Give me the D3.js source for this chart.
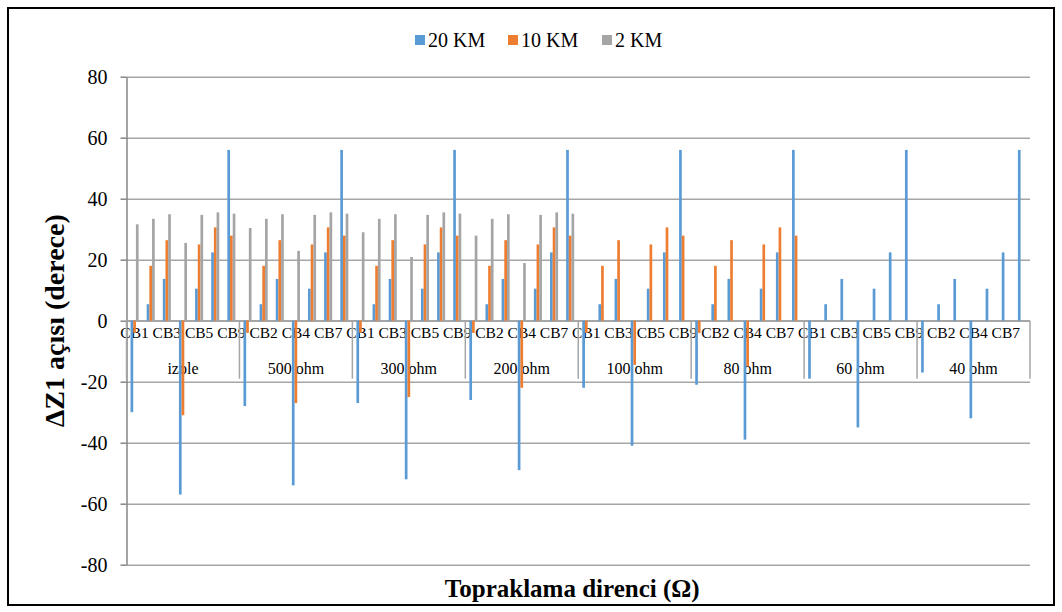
<!DOCTYPE html>
<html lang="tr">
	<head>
		<meta charset="UTF-8" />
		<title>ΔZ1 açısı</title>
		<script src="https://d3js.org/d3.v7.min.js"></script>
		<style>
			body {
				margin: 0;
				background: #fff;
			}
			text {
				font-family: "Liberation Serif", "Times New Roman", serif;
				fill: #000;
			}
		</style>
	</head>
	<body>
		<div id="chart"></div>

		<script>
			// Gruplar (topraklama direnci) ve kesiciler
			const groups = ["izole", "500 ohm", "300 ohm", "200 ohm", "100 ohm", "80 ohm", "60 ohm", "40 ohm"];
			const breakers = ["CB1", "CB2", "CB3", "CB4", "CB5", "CB7", "CB9"];
			const seriesNames = ["20 KM", "10 KM", "2 KM"];
			const yTicks = [-80, -60, -40, -20, 0, 20, 40, 60, 80];

			// her satır bir grup, her sütun bir kesici
			const km20 = [
				[-30, 5.4, 13.7, -57, 10.5, 22.4, 56],
				[-28, 5.4, 13.7, -54, 10.5, 22.4, 56],
				[-27, 5.4, 13.7, -52, 10.5, 22.4, 56],
				[-26, 5.4, 13.7, -49, 10.5, 22.4, 56],
				[-22, 5.4, 13.7, -41, 10.5, 22.4, 56],
				[-21, 5.4, 13.7, -39, 10.5, 22.4, 56],
				[-19, 5.4, 13.7, -35, 10.5, 22.4, 56],
				[-17, 5.4, 13.7, -32, 10.5, 22.4, 56]
			];
			const km10 = [
				[-4, 18, 26.4, -31, 25, 30.6, 27.9],
				[-4, 18, 26.4, -27, 25, 30.6, 27.9],
				[-4, 18, 26.4, -25, 25, 30.6, 27.9],
				[-4, 18, 26.4, -22, 25, 30.6, 27.9],
				[-4, 18, 26.4, -14.5, 25, 30.6, 27.9],
				[-4, 18, 26.4, -15, 25, 30.6, 27.9],
				[null, null, null, null, null, null, null],
				[null, null, null, null, null, null, null]
			];
			const km2 = [
				[31.6, 33.4, 34.9, 25.5, 34.7, 35.5, 35.1],
				[30.4, 33.4, 34.9, 22.9, 34.7, 35.5, 35.1],
				[29, 33.4, 34.9, 20.9, 34.7, 35.5, 35.1],
				[27.9, 33.4, 34.9, 18.9, 34.7, 35.5, 35.1],
				[null, null, null, null, null, null, null],
				[null, null, null, null, null, null, null],
				[null, null, null, null, null, null, null],
				[null, null, null, null, null, null, null]
			];

			const colors = ["#5b9bd5", "#ed7d31", "#a5a5a5"];
			const seriesData = [km20, km10, km2];

			const W = 1062, H = 612;
			const plot = { left: 126.5, right: 1030, top: 76.7, bottom: 564.7 };

			const svg = d3.select("#chart").append("svg")
				.attr("width", W)
				.attr("height", H);

			// dış çerçeve
			svg.append("rect")
				.attr("x", 8).attr("y", 8)
				.attr("width", 1046).attr("height", 597)
				.attr("fill", "#fff")
				.attr("stroke", "#000")
				.attr("stroke-width", 2);

			// kategori listesi (grup|kesici)
			const cats = [];
			groups.forEach((g, gi) => breakers.forEach((b, bi) => cats.push({ g, gi, b, bi, key: g + "|" + b })));

			const x = d3.scaleBand()
				.domain(cats.map(d => d.key))
				.range([plot.left, plot.right])
				.paddingInner(0.5)
				.paddingOuter(0.25);

			const xs = d3.scaleBand()
				.domain(seriesNames)
				.range([0, x.bandwidth()]);

			const y = d3.scaleLinear()
				.domain([-80, 80])
				.range([plot.bottom, plot.top]);

			// yatay ızgara
			svg.append("g")
				.attr("transform", `translate(${plot.left},0)`)
				.call(d3.axisLeft(y).tickValues(yTicks).tickSize(-(plot.right - plot.left)).tickFormat(""))
				.call(g => g.select(".domain").remove())
				.call(g => g.selectAll("line").attr("stroke", "#a6a6a6").attr("stroke-width", 1.5));

			// Y ekseni
			svg.append("g")
				.attr("transform", `translate(${plot.left},0)`)
				.call(d3.axisLeft(y).tickValues(yTicks).tickSize(6).tickSizeOuter(0).tickPadding(13).tickFormat(d => String(d)))
				.call(g => g.select(".domain").attr("stroke", "#868686").attr("stroke-width", 1.5))
				.call(g => g.selectAll("line").attr("stroke", "#868686").attr("stroke-width", 1.5))
				.call(g => g.selectAll("text")
					.style("font-family", "'Liberation Serif', serif")
					.style("font-size", "20px")
					.attr("fill", "#000"));

			// sıfır çizgisi
			svg.append("line")
				.attr("x1", plot.left).attr("x2", plot.right)
				.attr("y1", y(0)).attr("y2", y(0))
				.attr("stroke", "#a6a6a6")
				.attr("stroke-width", 1.5);

			// kesici etiketleri (her ikinci kategori)
			svg.append("g")
				.selectAll("text")
				.data(cats.filter((d, i) => i % 2 === 0))
				.join("text")
				.attr("x", d => x(d.key) + x.bandwidth() / 2)
				.attr("y", y(0) + 17)
				.attr("text-anchor", "middle")
				.style("font-size", "15.5px")
				.text(d => d.b);

			// grup etiketleri
			const groupW = (plot.right - plot.left) / groups.length;
			svg.append("g")
				.selectAll("text")
				.data(groups)
				.join("text")
				.attr("x", (d, i) => plot.left + groupW * (i + 0.5))
				.attr("y", y(0) + 53)
				.attr("text-anchor", "middle")
				.style("font-size", "16px")
				.text(d => d);

			// grup ayırıcıları
			svg.append("g")
				.selectAll("line")
				.data(d3.range(groups.length + 1))
				.join("line")
				.attr("x1", i => plot.left + groupW * i)
				.attr("x2", i => plot.left + groupW * i)
				.attr("y1", y(0))
				.attr("y2", y(0) + 58)
				.attr("stroke", "#a6a6a6")
				.attr("stroke-width", 1.5);

			// çubuklar
			seriesData.forEach((data, si) => {
				const rows = [];
				cats.forEach(c => {
					const v = data[c.gi][c.bi];
					if (v !== null) rows.push({ key: c.key, v });
				});
				svg.append("g")
					.selectAll("rect")
					.data(rows)
					.join("rect")
					.attr("x", d => x(d.key) + xs(seriesNames[si]))
					.attr("width", xs.bandwidth())
					.attr("y", d => y(Math.max(0, d.v)))
					.attr("height", d => Math.abs(y(d.v) - y(0)))
					.attr("fill", colors[si]);
			});

			// lejant
			const legendX = [415, 508, 602];
			const legend = svg.append("g");
			seriesNames.forEach((name, i) => {
				legend.append("rect")
					.attr("x", legendX[i]).attr("y", 35)
					.attr("width", 10).attr("height", 10)
					.attr("fill", colors[i]);
				legend.append("text")
					.attr("x", legendX[i] + 13)
					.attr("y", 47)
					.style("font-size", "20px")
					.text(name);
			});

			// eksen başlıkları
			svg.append("text")
				.attr("x", (plot.left + plot.right) / 2 - 6)
				.attr("y", 597)
				.attr("text-anchor", "middle")
				.style("font-size", "25px")
				.style("font-weight", "bold")
				.text("Topraklama direnci (Ω)");

			svg.append("text")
				.attr("transform", `translate(64,${(plot.top + plot.bottom) / 2}) rotate(-90)`)
				.attr("text-anchor", "middle")
				.style("font-size", "28px")
				.style("font-weight", "bold")
				.text("ΔZ1 açısı (derece)");
		</script>
	</body>
</html>
